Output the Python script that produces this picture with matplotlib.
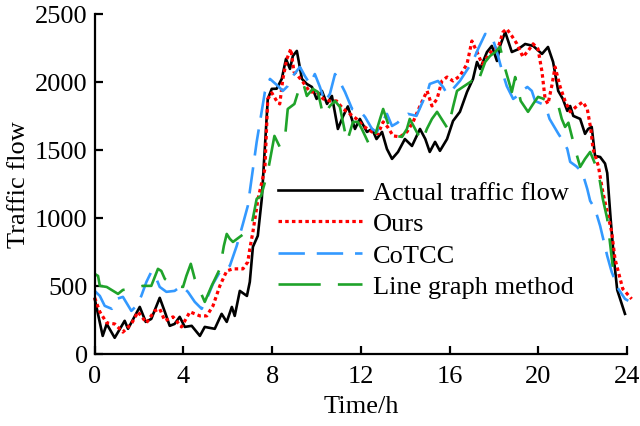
import numpy as np
import matplotlib
matplotlib.use("Agg")
import matplotlib.pyplot as plt

plt.rcParams["font.family"] = ["Liberation Serif", "DejaVu Serif"]
plt.rcParams["font.size"] = 19

# Actual traffic flow
actual_t = [0, 0.36, 0.54, 0.9, 1.35, 1.5, 2.03, 2.3, 2.55, 2.93, 3.16, 3.38, 3.6, 3.83, 4.06,
            4.37, 4.74, 4.96, 5.41, 5.72, 5.95, 6.18, 6.31, 6.54, 6.86, 6.99, 7.13, 7.35, 7.53,
            7.8, 7.98, 8.2, 8.43, 8.62, 8.8, 8.93, 9.11, 9.34, 9.56, 9.79, 10.0, 10.24, 10.47,
            10.69, 10.96, 11.2, 11.41, 11.73, 11.95, 12.27, 12.5, 12.7, 12.95, 13.17, 13.4,
            13.67, 13.98, 14.3, 14.66, 14.9, 15.1, 15.34, 15.56, 15.88, 16.15, 16.46, 16.78,
            17.05, 17.23, 17.37, 17.68, 17.9, 18.13, 18.27, 18.5, 18.8, 19.08, 19.4, 19.76,
            20.16, 20.43, 20.66, 20.89, 21.1, 21.3, 21.43, 21.57, 21.88, 22.1, 22.24, 22.4,
            22.55, 22.78, 23.0, 23.1, 23.25, 23.4, 23.55, 23.9]
actual_v = [404, 132, 220, 118, 243, 184, 345, 235, 257, 412, 309, 206, 220, 272, 198,
            206, 132, 198, 184, 294, 235, 345, 279, 463, 426, 529, 787, 868, 1140,
            1875, 1949, 1950, 2022, 2169, 2096, 2191, 2228, 2022, 1985, 1963, 1875, 1934, 1838,
            1897, 1654, 1750, 1820, 1654, 1728, 1632, 1654, 1580, 1632, 1507, 1434,
            1485, 1580, 1529, 1654, 1580, 1485, 1559, 1493, 1580, 1713, 1780, 1926,
            2022, 2147, 2096, 2220, 2265, 2154, 2265, 2367, 2220, 2240, 2279, 2265,
            2206, 2257, 2147, 1934, 1875, 1787, 1823, 1750, 1728, 1618, 1654, 1669,
            1456, 1448, 1400, 1330, 1000, 700, 470, 294]

# Ours
ours_t = [0, 0.23, 0.54, 0.9, 1.27, 1.65, 1.95, 2.33, 2.7, 2.93, 3.16, 3.53, 3.91, 4.29, 4.74,
          5.05, 5.33, 5.64, 5.95, 6.23, 6.68, 6.9, 6.99, 7.13, 7.36, 7.67, 7.8, 7.98, 8.2, 8.34,
          8.48, 8.66, 8.84, 8.98, 9.16, 9.38, 9.7, 10.0, 10.3, 10.6, 10.9, 11.2, 11.5, 11.8,
          12.1, 12.5, 12.77, 13.0, 13.2, 13.45, 13.76, 14.07, 14.35, 14.66, 14.98, 15.2, 15.43,
          15.65, 15.88, 16.15, 16.46, 16.78, 17.0, 17.23, 17.46, 17.73, 17.95, 18.18, 18.4,
          18.57, 18.8, 19.03, 19.3, 19.53, 19.76, 19.98, 20.16, 20.3, 20.43, 20.6, 20.75, 20.98,
          21.2, 21.43, 21.74, 22.0, 22.2, 22.36, 22.46, 22.7, 22.9, 23.14, 23.3, 23.45, 23.8, 24.2]
ours_v = [412, 309, 228, 220, 160, 220, 309, 228, 316, 331, 243, 272, 198, 309, 279,
          279, 353, 500, 610, 625, 625, 676, 772, 897, 1140, 1360, 1875, 1920, 1860, 1838,
          2022, 2169, 2243, 2074, 2044, 2000, 1926, 1926, 1875, 1860, 1860, 1801, 1765, 1728,
          1676, 1632, 1618, 1706, 1669, 1603, 1596, 1632, 1706, 1823, 1934, 1823, 1875,
          2007, 2036, 2007, 2044, 2132, 2301, 2220, 2132, 2191, 2243, 2250, 2367,
          2390, 2338, 2280, 2184, 2228, 2280, 2243, 2074, 1875, 1838, 1970, 2110, 1963,
          1860, 1780, 1823, 1853, 1801, 1654, 1507, 1382, 1190, 1015, 897, 698, 478, 404]

# CoTCC
cotcc_t = [0, 0.23, 0.45, 0.77, 0.99, 1.27, 1.65, 1.88, 2.1, 2.33, 2.55, 2.78, 2.93, 3.23, 3.6,
           3.91, 4.2, 4.51, 4.82, 5.05, 5.33, 5.72, 6.09, 6.4, 6.68, 6.9, 7.3, 7.67, 7.9, 8.26,
           8.48, 8.7, 8.93, 9.25, 9.47, 9.7, 9.92, 10.15, 10.37, 10.6, 10.83, 11.05, 11.28,
           11.6, 11.95, 12.18, 12.5, 12.72, 12.95, 13.17, 13.4, 13.65, 13.9, 14.12, 14.5, 14.8,
           15.0, 15.1, 15.47, 15.7, 15.88, 16.15, 16.46, 16.75, 17.05, 17.28, 17.6, 17.9,
           18.13, 18.36, 18.57, 18.86, 19.08, 19.3, 19.5, 19.7, 19.85, 20.16, 20.4, 20.5, 20.9,
           21.05, 21.3, 21.43, 21.7, 21.97, 22.2, 22.33, 22.55, 22.78, 23.1, 23.3, 23.6, 23.9, 24.05]
cotcc_v = [463, 426, 353, 331, 404, 419, 316, 353, 426, 529, 603, 551, 492, 456, 463,
           500, 456, 382, 331, 404, 515, 625, 647, 794, 956, 1088, 1559, 1926, 2022, 1970,
           1934, 1970, 2044, 2110, 2044, 1985, 2058, 1963, 1853, 1912, 2058, 2000, 1926,
           1801, 1787, 1743, 1654, 1632, 1706, 1765, 1676, 1700, 1743, 1765, 1750, 1860,
           1926, 1985, 2007, 1963, 1912, 1949, 2007, 2080, 2154, 2243, 2353, 2338,
           2220, 2081, 1970, 1875, 1900, 1940, 1963, 1934, 1860, 1838, 1780, 1728, 1618,
           1580, 1507, 1412, 1380, 1338, 1213, 1125, 1066, 941, 720, 603, 478, 404, 390]

# Line graph method
lg_t = [0, 0.15, 0.23, 0.54, 0.9, 1.05, 1.27, 1.7, 2.17, 2.55, 2.85, 3.0, 3.16, 3.6, 3.98, 4.13,
        4.33, 4.51, 4.96, 5.27, 5.64, 5.82, 5.95, 6.09, 6.23, 6.7, 7.08, 7.3, 7.5, 7.8, 8.1,
        8.34, 8.57, 8.7, 9.0, 9.25, 9.38, 9.56, 9.83, 10.06, 10.3, 10.6, 10.83, 11.05, 11.37,
        11.64, 11.86, 12.04, 12.4, 12.63, 12.86, 13.0, 13.3, 13.53, 13.85, 14.07, 14.2, 14.75,
        14.97, 15.2, 15.43, 15.92, 16.15, 16.33, 17.0, 17.23, 17.37, 17.6, 17.82, 18.05,
        18.27, 18.5, 18.8, 18.95, 19.2, 19.53, 19.76, 19.98, 20.16, 20.9, 21.05, 21.2, 21.35,
        21.65, 21.88, 22.1, 22.33, 22.7, 22.9, 23.1, 23.35]
lg_v = [588, 573, 500, 492, 456, 441, 470, 480, 500, 500, 625, 610, 551, 500, 492, 573,
        662, 551, 382, 500, 625, 794, 882, 846, 823, 880, 956, 1140, 1162, 1338, 1603,
        1522, 1580, 1801, 1838, 1970, 2000, 1897, 1949, 1926, 1750, 1823, 1860, 1816, 1559,
        1706, 1706, 1654, 1529, 1603, 1728, 1801, 1654, 1603, 1596, 1654, 1728, 1559,
        1654, 1728, 1780, 1654, 1816, 1934, 2007, 1970, 2044, 2147, 2191, 2220,
        2257, 2096, 1926, 2036, 1860, 1780, 1838, 1890, 1880, 1823, 1728, 1669, 1700,
        1507, 1375, 1434, 1485, 1338, 1140, 993, 640]

fig = plt.figure(figsize=(6.4, 4.27), dpi=100)
ax = fig.add_axes([0.148, 0.169, 0.832, 0.796])

ax.plot(actual_t, actual_v, color="black", lw=1.9, label="Actual traffic flow", clip_on=False)
ax.plot(ours_t, ours_v, color="red", lw=2.3, dashes=(1.1, 1.0), label="Ours", clip_on=False)
ax.plot(cotcc_t, cotcc_v, color="#3399ff", lw=1.9, dashes=(10, 4.5), label="CoTCC", clip_on=False)
ax.plot(lg_t, lg_v, color="#1fa32a", lw=1.9, dashes=(16, 6.5), label="Line graph method", clip_on=False)

ax.set_xlim(0, 24)
ax.set_ylim(0, 2500)
ax.set_xticks([0, 4, 8, 12, 16, 20, 24])
ax.set_yticks([0, 500, 1000, 1500, 2000, 2500])
ax.spines["top"].set_visible(False)
ax.spines["right"].set_visible(False)
ax.spines["left"].set_linewidth(1.6)
ax.spines["bottom"].set_linewidth(1.6)
ax.tick_params(direction="in", length=6, width=1.6)
ax.tick_params(axis="x", pad=8)
ax.tick_params(axis="y", pad=5)

ax.set_xlabel("Time/h", labelpad=6)
ax.set_ylabel("Traffic flow", labelpad=4)

ax.legend(loc="upper left", bbox_to_anchor=(0.344, 0.51), frameon=False,
          handlelength=3.2, handletextpad=0.4, labelspacing=0.3,
          borderpad=0, borderaxespad=0)

fig.savefig("out.png", dpi=100)
